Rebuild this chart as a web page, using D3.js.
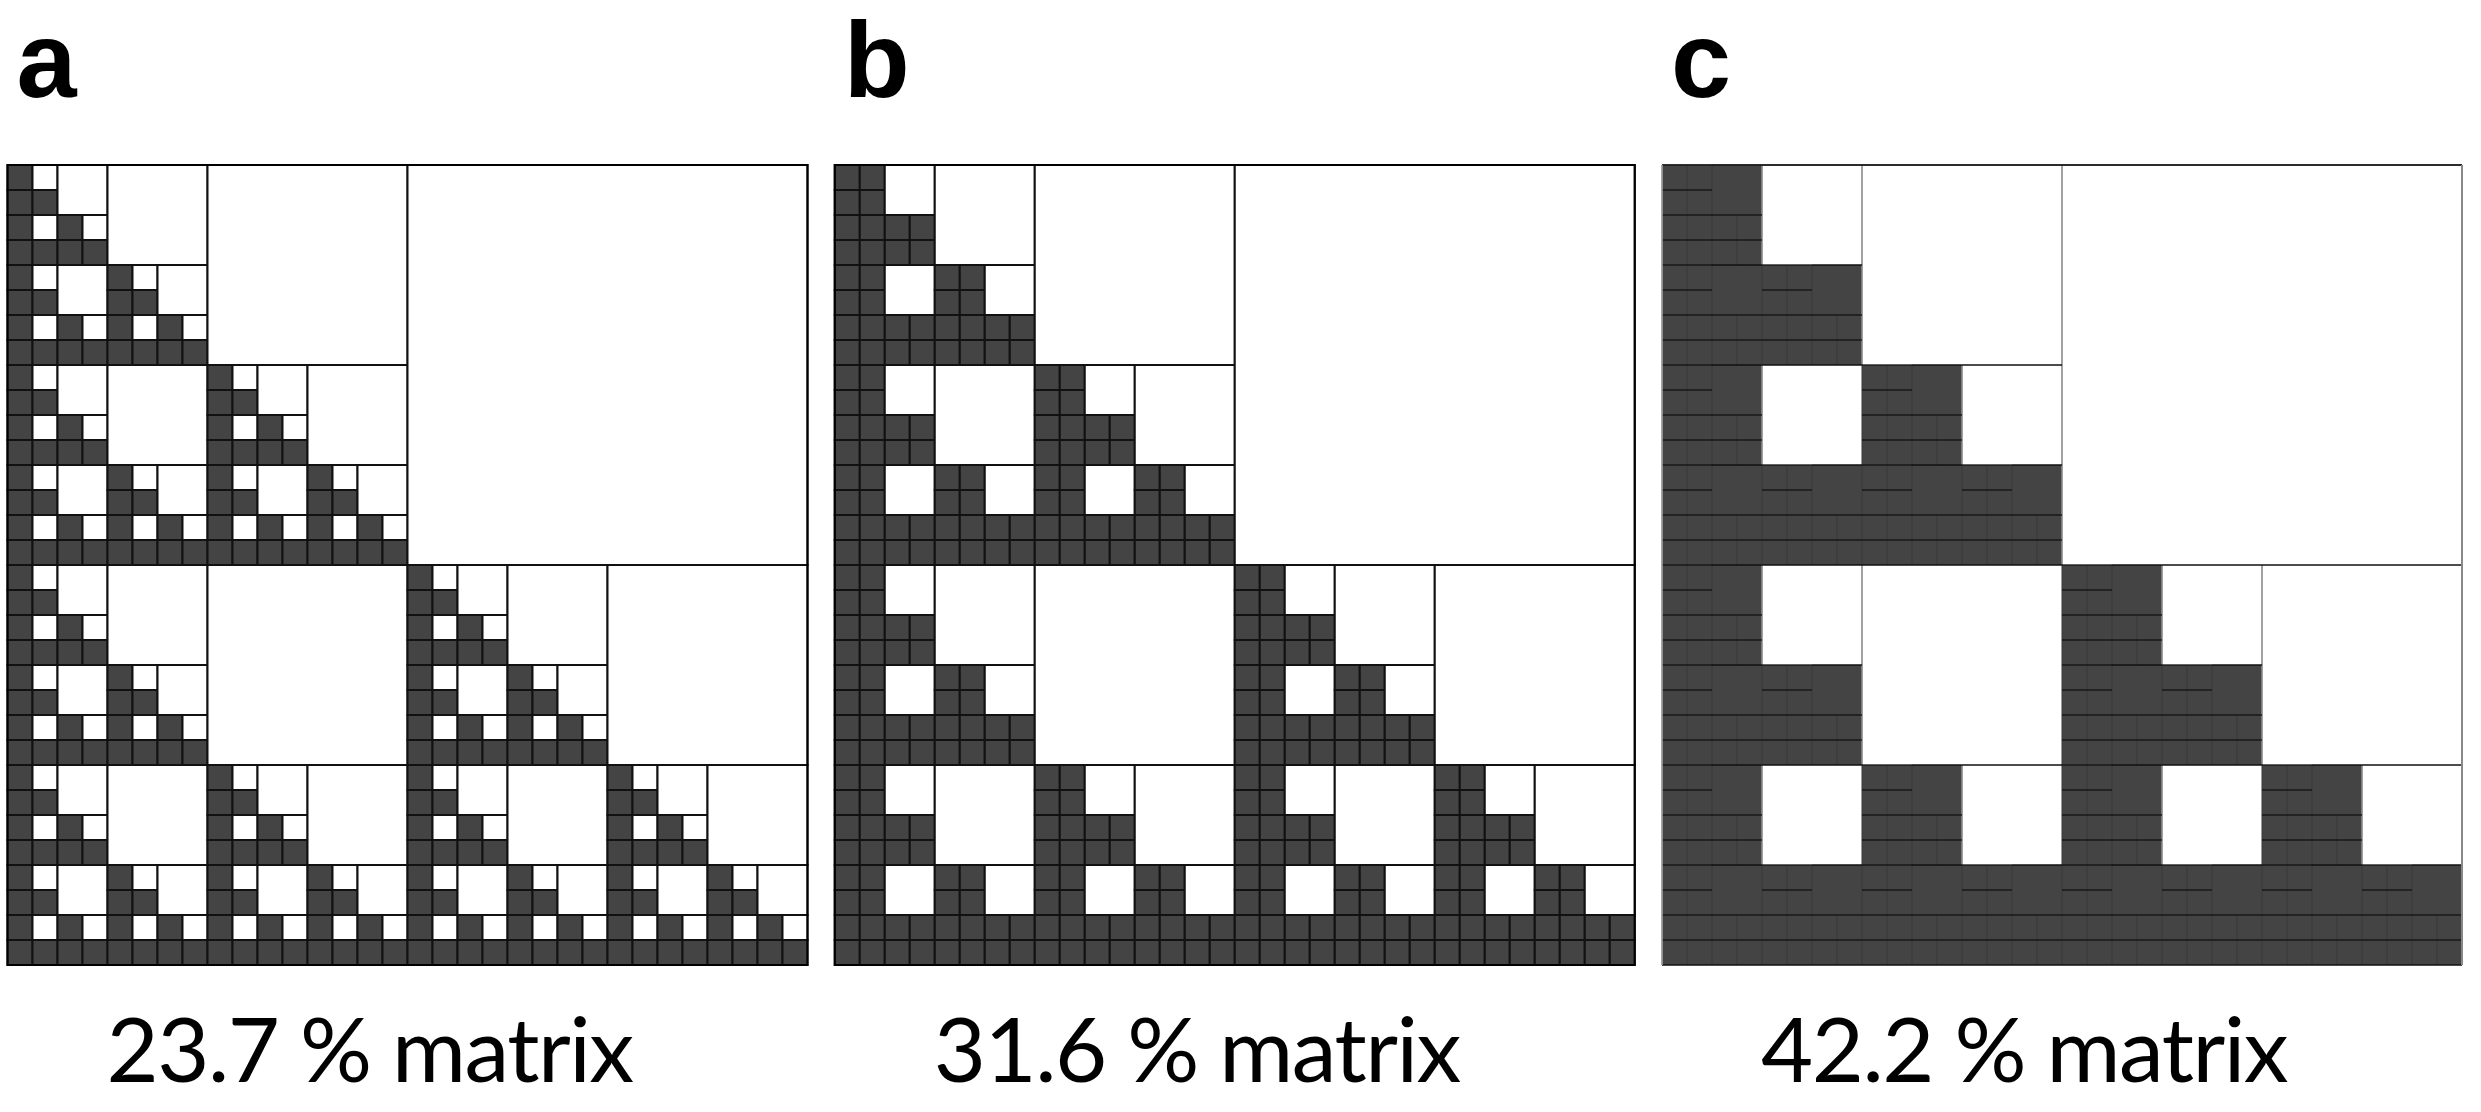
<!DOCTYPE html>
<html>
<head>
<meta charset="utf-8">
<script src="https://cdn.jsdelivr.net/npm/d3@7"></script>
<style>
  body { margin: 0; background: #fff; }
  svg { display: block; }
</style>
</head>
<body>
<svg id="chart" width="2481" height="1112"></svg>
<script>
// matrix size (number of smallest cells per side)
var N = 32;

// panel data
var panelLabels = ["a", "b", "c"];
var densePercent = ["23.7", "31.6", "42.2"];
var leafSize = [1, 2, 2];        // size of the dense diagonal leaf blocks
var denseLowRank = [0, 0, 2];    // low-rank blocks up to this size are stored dense

var darkFill = "#444444";

// build the hierarchical block partition of one panel
function partition(r, c, n, leaf, merge, out) {
    if (n <= leaf) {
        for (var i = 0; i < n; i++) {
            for (var j = 0; j < n; j++) {
                out.push({r: r + i, c: c + j, n: 1, dark: true});
            }
        }
        return;
    }
    var h = n / 2;
    partition(r, c, h, leaf, merge, out);
    out.push({r: r, c: c + h, n: h, dark: h <= merge});
    partition(r + h, c, h, leaf, merge, out);
    partition(r + h, c + h, h, leaf, merge, out);
}

var svg = d3.select("#chart");

var panelX = d3.scaleLinear().domain([0, 2]).range([7.5, 1662]);
var size = 800;
var top0 = 165;

panelLabels.forEach(function(label, p) {
    var blocks = [];
    partition(0, 0, N, leafSize[p], denseLowRank[p], blocks);

    var x = d3.scaleLinear().domain([0, N]).range([0, size]);
    var y = d3.scaleLinear().domain([0, N]).range([0, size]);

    var g = svg.append("g")
        .attr("transform", "translate(" + panelX(p) + "," + top0 + ")");

    if (p < 2) {
        // plain outlined blocks
        g.selectAll("rect.block")
            .data(blocks)
            .enter()
            .append("rect")
            .attr("class", "block")
            .attr("x", function(d) { return x(d.c); })
            .attr("y", function(d) { return y(d.r); })
            .attr("width", function(d) { return x(d.n) - x(0); })
            .attr("height", function(d) { return y(d.n) - y(0); })
            .attr("fill", function(d) { return d.dark ? darkFill : "#fff"; })
            .attr("stroke", "#111")
            .attr("stroke-width", 2);

        g.append("rect")
            .attr("width", size).attr("height", size)
            .attr("fill", "none")
            .attr("stroke", "#000")
            .attr("stroke-width", 2);
    } else {
        // fills first, then edges: crisp horizontal, soft vertical
        g.selectAll("rect.block")
            .data(blocks)
            .enter()
            .append("rect")
            .attr("class", "block")
            .attr("x", function(d) { return x(d.c); })
            .attr("y", function(d) { return y(d.r); })
            .attr("width", function(d) { return x(d.n) - x(0); })
            .attr("height", function(d) { return y(d.n) - y(0); })
            .attr("fill", function(d) { return d.dark ? darkFill : "#fff"; });

        g.selectAll("line.v")
            .data(blocks)
            .enter()
            .append("line")
            .attr("class", "v")
            .attr("x1", function(d) { return x(d.c); })
            .attr("x2", function(d) { return x(d.c); })
            .attr("y1", function(d) { return y(d.r); })
            .attr("y2", function(d) { return y(d.r + d.n); })
            .attr("stroke", function(d) { return d.dark ? "#383838" : "#8a8a8a"; })
            .attr("stroke-width", function(d) { return d.dark ? 1 : 1.6; });

        g.selectAll("line.h")
            .data(blocks)
            .enter()
            .append("line")
            .attr("class", "h")
            .attr("x1", function(d) { return x(d.c); })
            .attr("x2", function(d) { return x(d.c + d.n); })
            .attr("y1", function(d) { return y(d.r); })
            .attr("y2", function(d) { return y(d.r); })
            .attr("stroke", "#111")
            .attr("stroke-width", 1.3);

        // outer border
        g.append("line").attr("x1", 0).attr("x2", size).attr("y1", 0).attr("y2", 0)
            .attr("stroke", "#222").attr("stroke-width", 1.5);
        g.append("line").attr("x1", 0).attr("x2", size).attr("y1", size).attr("y2", size)
            .attr("stroke", "#111").attr("stroke-width", 1.5);
        g.append("line").attr("x1", 0).attr("x2", 0).attr("y1", 0).attr("y2", size)
            .attr("stroke", "#aaa").attr("stroke-width", 1.5);
        g.append("line").attr("x1", size).attr("x2", size).attr("y1", 0).attr("y2", size)
            .attr("stroke", "#888").attr("stroke-width", 2);
    }

    // panel letter
    svg.append("text")
        .attr("x", panelX(p) + 9)
        .attr("y", 97)
        .attr("font-family", "'Liberation Sans', Arial, sans-serif")
        .attr("font-weight", "bold")
        .attr("font-size", 108)
        .attr("fill", "#000")
        .text(label);

    // caption
    svg.append("text")
        .attr("x", panelX(p) + 99)
        .attr("y", 1082)
        .attr("font-family", "Lato, 'Open Sans', sans-serif")
        .attr("font-size", 90)
        .attr("letter-spacing", -1.5)
        .attr("fill", "#000")
        .text(densePercent[p] + " % matrix");
});
</script>
</body>
</html>
